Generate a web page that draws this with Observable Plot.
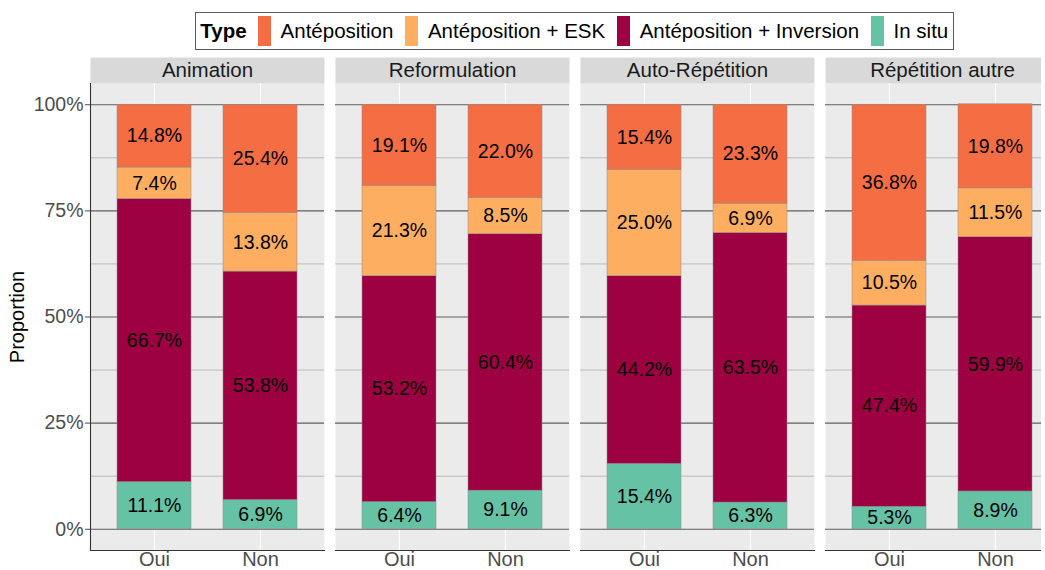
<!DOCTYPE html>
<html><head><meta charset="utf-8">
<script src="https://cdn.jsdelivr.net/npm/d3@7"></script>
<script src="https://cdn.jsdelivr.net/npm/@observablehq/plot@0.6"></script>
<style>
body{margin:0;background:#fff;font-family:"Liberation Sans",Arial,sans-serif;}
#clip{position:relative;width:1041px;height:570px;overflow:hidden;background:#fff;}
#legendWrap{position:absolute;top:11.5px;left:90px;width:969.5px;display:flex;justify-content:center;}
#legend{border:1px solid #5a5a5a;height:36px;display:flex;align-items:center;padding:0 5px 0 4px;font-size:20.5px;color:#000;white-space:nowrap;}
#legend .title{font-weight:bold;margin-right:11px;}
#legend .sw{width:13px;height:30px;margin-right:10px;}
#legend .lab{margin-right:11.5px;}
#legend .lab:last-child{margin-right:0;}
#ylab{position:absolute;left:-83px;top:305px;width:200px;height:24px;line-height:24px;text-align:center;font-size:20px;color:#000;transform:rotate(-90deg);transform-origin:center;}
#chart{position:absolute;top:54px;left:0;width:1065px;}
#chart svg{max-width:none !important;}
</style></head><body>
<div id="clip">
  <div id="legendWrap"><div id="legend"></div></div>
  <div id="ylab">Proportion</div>
  <div id="chart"></div>
</div>
<script>
// ---- data ----
const categories = ["Animation", "Reformulation", "Auto-Répétition", "Répétition autre"];
const responses = ["Oui", "Non"];
// stacking order, bottom to top
const stackTypes = ["In situ", "Antéposition + Inversion", "Antéposition + ESK", "Antéposition"];
const legendTypes = ["Antéposition", "Antéposition + ESK", "Antéposition + Inversion", "In situ"];
const legendColors = ["#F46D43", "#FDAE61", "#9E0142", "#66C2A5"];
const legendTitle = "Type";
// values per (category, response) in order: Animation Oui, Animation Non, Reformulation Oui, ...
const inSitu    = [11.1, 6.9, 6.4, 9.1, 15.4, 6.3, 5.3, 8.9];
const antInv    = [66.7, 53.8, 53.2, 60.4, 44.2, 63.5, 47.4, 59.9];
const antEsk    = [7.4, 13.8, 21.3, 8.5, 25.0, 6.9, 10.5, 11.5];
const ant       = [14.8, 25.4, 19.1, 22.0, 15.4, 23.3, 36.8, 19.8];
const majorTicks = [0, 25, 50, 75, 100];
const minorTicks = [12.5, 37.5, 62.5, 87.5];
const yDomain = [-5, 105];

const series = {"In situ": inSitu, "Antéposition + Inversion": antInv, "Antéposition + ESK": antEsk, "Antéposition": ant};
const rows = [];
categories.forEach((c, ci) => responses.forEach((r, ri) => {
  const k = ci * 2 + ri;
  stackTypes.forEach(t => rows.push({cat: c, resp: r, type: t, value: series[t][k]}));
}));

// ---- legend ----
const leg = document.getElementById("legend");
const tt = document.createElement("span"); tt.className = "title"; tt.textContent = legendTitle; leg.appendChild(tt);
legendTypes.forEach((t, i) => {
  const s = document.createElement("span"); s.className = "sw"; s.style.background = legendColors[i]; leg.appendChild(s);
  const l = document.createElement("span"); l.className = "lab"; l.textContent = t; leg.appendChild(l);
});

// ---- chart ----
const W = 1065, H = 540, mT = 29, mB = 44;
const panelH = H - mT - mB;
const chart = Plot.plot({
  width: W, height: H,
  marginLeft: 90, marginRight: 5.5, marginTop: mT, marginBottom: mB,
  style: {fontFamily: "'Liberation Sans', Arial, sans-serif", background: "transparent", overflow: "visible", maxWidth: "none"},
  fx: {domain: categories, paddingInner: 0.043, paddingOuter: 0, label: null, axis: null},
  x: {domain: responses, paddingInner: 0.3, paddingOuter: 0.25, label: null, axis: null},
  y: {domain: yDomain, label: null, axis: null},
  color: {domain: legendTypes, range: legendColors},
  marks: [
    Plot.frame({fill: "#EBEBEB"}),
    Plot.frame({fill: "#D9D9D9", insetTop: -26, insetBottom: panelH}),
    Plot.gridX({stroke: "white", strokeOpacity: 1, strokeWidth: 1.1}),
    Plot.gridY(minorTicks, {stroke: "#9a9a9a", strokeOpacity: 1, strokeWidth: 0.6}),
    Plot.gridY(majorTicks, {stroke: "#5e5e5e", strokeOpacity: 1, strokeWidth: 1.1}),
    Plot.barY(rows, {fx: "cat", x: "resp", y: "value", fill: "type", stroke: "#8c8c8c", strokeWidth: 0.5}),
    Plot.text(rows, Plot.stackY({fx: "cat", x: "resp", y: "value", text: d => d.value.toFixed(1) + "%", fontSize: 19.5, fill: "black"})),
    Plot.text(categories, {fx: d => d, text: d => d, frameAnchor: "top", dy: -13, lineAnchor: "middle", fontSize: 20.5, fill: "#1A1A1A"}),
    Plot.frame({anchor: "bottom", stroke: "#333", strokeWidth: 1.1}),
    Plot.frame({anchor: "left", stroke: "#333", strokeWidth: 1.1, facetAnchor: "left"}),
    Plot.axisX({tickSize: 0, tickPadding: 1.5, fontSize: 20, color: "#4D4D4D", label: null}),
    Plot.axisY(majorTicks, {tickFormat: d => d + "%", tickSize: 5, tickPadding: 2, fontSize: 19.5, color: "#4D4D4D", label: null})
  ]
});
chart.style.maxWidth = "none";
document.getElementById("chart").appendChild(chart);
</script>
</body></html>
